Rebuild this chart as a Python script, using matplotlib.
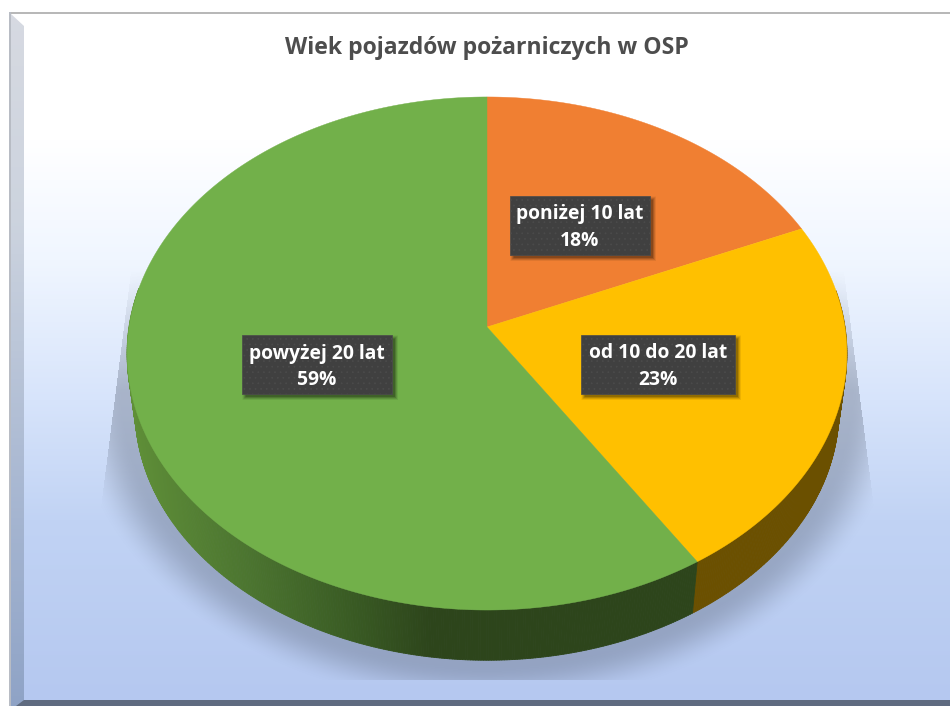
import numpy as np
import matplotlib
matplotlib.use("Agg")
import matplotlib.pyplot as plt
from matplotlib.patches import Polygon, Rectangle
from matplotlib.collections import PolyCollection
from matplotlib.colors import to_rgb

title = "Wiek pojazdów pożarniczych w OSP"
categories = ["poniżej 10 lat", "od 10 do 20 lat", "powyżej 20 lat"]
values = [18.4, 22.6, 59]
face_colors = ["#f07f32", "#ffc000", "#72b04a"]
wall_colors = ["#8a4a1c", "#6b5000", None]
label_boxes = [(510, 196, 650, 255), (581, 335, 735, 394), (242, 335, 392, 394)]

W, H = 950, 706
plt.rcParams["font.family"] = ["Open Sans", "DejaVu Sans"]
plt.rcParams["hatch.linewidth"] = 0.5
fig = plt.figure(figsize=(W / 100, H / 100), dpi=100)
ax = fig.add_axes([0, 0, 1, 1])
ax.set_xlim(0, W)
ax.set_ylim(H, 0)
ax.axis("off")


def hexa(c):
    return np.array(to_rgb(c))


# background
yy, xx = np.mgrid[0:H, 0:W] + 0.5
stops_y = [14, 140, 260, 400, 520, 700]
stops_c = np.array([hexa(c) for c in ["#ffffff", "#ffffff", "#f0f6ff", "#d7e4fb", "#c1d3f4", "#b5c8f0"]])
grad = np.stack([np.interp(yy[:, 0], stops_y, stops_c[:, i]) for i in range(3)], axis=1)
bg = np.repeat(grad[:, None, :], W, axis=1)
bg[yy < 12] = 1
bg[xx < 9] = 1
ax.imshow(bg, extent=(0, W, H, 0), aspect="auto", zorder=0, interpolation="bilinear")

# shadow under the pie
sh_r = np.sqrt(((xx - 487) / 395) ** 2 + ((yy - 390) / 300) ** 2)
a = np.clip((1.06 - sh_r) / 0.14, 0, 1)
a = a * a * (3 - 2 * a)
top_fade = np.clip((yy - 270) / 120, 0, 1)
left_lim = 130 - (yy - 280) * 28 / 220
right_lim = 845 + (yy - 280) * 28 / 220
a = a * top_fade * 0.38
a[(xx < left_lim) | (xx > right_lim) | (yy > 680)] = 0
shadow = np.zeros((H, W, 4))
shadow[..., 0] = 90 / 255
shadow[..., 1] = 100 / 255
shadow[..., 2] = 120 / 255
shadow[..., 3] = a
ax.imshow(shadow, extent=(0, W, H, 0), aspect="auto", zorder=1, interpolation="bilinear")

# chart frame
bev_y = np.linspace(14, 706, 200)
bev_cs = np.array([hexa(c) for c in ["#d6d9e1", "#ccd3de", "#a9b8d2", "#8fa3c6"]])
bev_stops = [14, 220, 480, 700]
for y0, y1 in zip(bev_y[:-1], bev_y[1:]):
    col = [np.interp((y0 + y1) / 2, bev_stops, bev_cs[:, i]) for i in range(3)]
    ax.add_patch(Rectangle((11, y0), 13, y1 - y0 + 0.5, fc=col, ec="none", zorder=2))
ax.add_patch(Polygon([(11, 14), (24, 26), (24, 14)], fc="white", ec="none", zorder=2.1))
ax.add_patch(Rectangle((9, 12), 941, 2, fc="#b8b8b8", ec="none", zorder=3))
ax.add_patch(Rectangle((9, 12), 2, 694, fc="#b8bcc4", ec="none", zorder=3))
ax.add_patch(Polygon([(16, 706), (24, 700), (950, 700), (950, 706)], fc="#5f6b80", ec="none", zorder=3))


# pie projection: unit circle to the perspective ellipse
K = 0.1033


def project(theta, cx, cy, rx, ry):
    u, v = np.sin(theta), np.cos(theta)
    d = 1 + K * v
    return cx + rx * u / d, cy - ry * v / d


TOP = (487, 327, 358, 253.8)
BOT = (487, 384, 350, 247.7)
edges = 2 * np.pi * np.concatenate([[0], np.cumsum(values)]) / sum(values)

green_x = [135, 250, 350, 430]
green_c = np.array([hexa(c) for c in ["#5f8f38", "#4c7530", "#3a5c24", "#2d451b"]])

# side wall
for i in range(len(values)):
    th = np.linspace(edges[i], edges[i + 1], max(int((edges[i + 1] - edges[i]) * 150), 2))
    x1, y1 = project(th, *TOP)
    x2, y2 = project(th, *BOT)
    quads, cols = [], []
    for j in range(len(th) - 1):
        if np.cos(th[j]) > 0.15:
            continue
        quads.append([(x1[j], y1[j]), (x1[j + 1], y1[j + 1]), (x2[j + 1], y2[j + 1]), (x2[j], y2[j])])
        if wall_colors[i] is None:
            xm = (x2[j] + x2[j + 1]) / 2
            cols.append([np.interp(xm, green_x, green_c[:, c]) for c in range(3)])
        else:
            cols.append(to_rgb(wall_colors[i]))
    if quads:
        ax.add_collection(PolyCollection(quads, facecolors=cols, edgecolors=cols, linewidths=0.6, zorder=4))

# top face
for i in range(len(values)):
    th = np.linspace(edges[i], edges[i + 1], 300)
    x, y = project(th, *TOP)
    pts = np.column_stack([np.r_[TOP[0], x], np.r_[TOP[1], y]])
    ax.add_patch(Polygon(pts, closed=True, fc=face_colors[i], ec=face_colors[i], lw=0.3, zorder=5))

# data labels
pct = [round(100 * v / sum(values)) for v in values]
for name, p, (x0, y0, x1, y1) in zip(categories, pct, label_boxes):
    for s, al in [(8, 0.03), (7, 0.04), (6, 0.05), (5, 0.06), (4, 0.07), (3, 0.08), (2, 0.09), (1, 0.1)]:
        ax.add_patch(Rectangle((x0 + 3 - s / 2 + 1, y0 + 3 - s / 2 + 1), x1 - x0 + s - 2, y1 - y0 + s - 2,
                               fc="black", ec="none", alpha=al, zorder=6))
    ax.add_patch(Rectangle((x0, y0), x1 - x0, y1 - y0, fc="#404040", ec="#4b4b4b", lw=0.5,
                           hatch="...", zorder=7))
    xc = (x0 + x1) / 2
    ax.text(xc, y0 + 18.5, name, color="white", fontsize=13.9, fontweight="bold", ha="center", va="center", zorder=8)
    ax.text(xc, y0 + 45, f"{p}%", color="white", fontsize=13.9, fontweight="bold", ha="center", va="center", zorder=8)

ax.text(486.5, 47.5, title, color="#4d4d4d", fontsize=16.6, fontweight="bold", ha="center", va="center", zorder=8)

fig.savefig("out.png", dpi=100)
